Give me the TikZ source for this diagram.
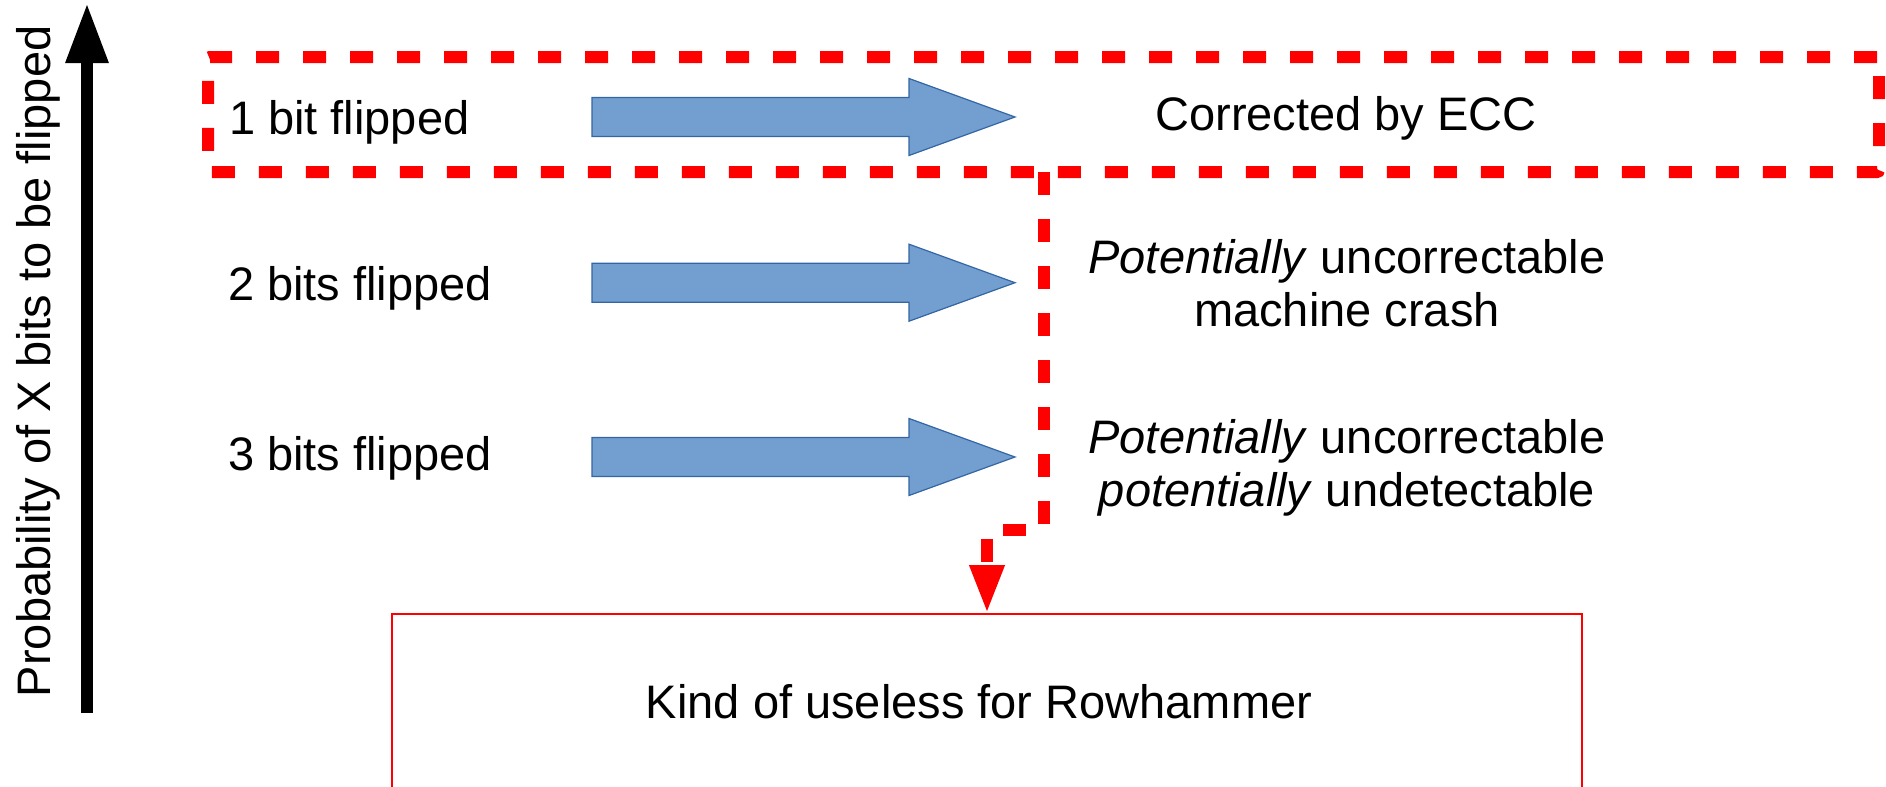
\documentclass[tikz,border=0pt]{standalone}
\usepackage{fontspec}
\setmainfont{Liberation Sans}
\usetikzlibrary{arrows.meta}
\definecolor{blockfill}{HTML}{729FCF}
\definecolor{blockline}{HTML}{3465A4}

\begin{document}
\begin{tikzpicture}[x=0.5pt,y=-0.5pt,
  every node/.style={inner sep=0pt, outer sep=0pt,
    font=\fontsize{23.5pt}{26.7pt}\selectfont},
  lbl/.style={anchor=base west},
  res/.style={align=center, anchor=base},
  eccbox/.style={draw=red, line width=6pt, dash pattern=on 11.5pt off 12pt,
    rounded corners=1pt, minimum width=835.5pt, minimum height=57.5pt},
  resultbox/.style={draw=red, line width=0.6pt, minimum width=595pt,
    minimum height=200pt, anchor=north},
  flowline/.style={draw=red, line width=6pt, dash pattern=on 11.5pt off 12pt,
    -{Triangle[length=24.5pt,width=16pt]}},
  axisline/.style={line width=6pt, -{Triangle[length=30pt,width=20pt]}},
  blockarrow/.style={fill=blockfill, draw=blockline, line width=0.6pt}
]
\useasboundingbox (0,0) rectangle (1886,787);
\clip (0,0) rectangle (1886,787);

% vertical axis
\coordinate (axbot) at (87,713);
\coordinate (axtop) at (87,3);
\draw[axisline] (axbot) -- (axtop);
\node[rotate=90, anchor=base west] (axlabel) at (50,697)
  {Probability of X bits to be flipped};

% region of errors that ECC corrects
\node[eccbox] (ecc) at (1043.5,114.5) {};

% number of flipped bits
\node[lbl] (one)   at (229,134)   {1 bit flipped};
\node[lbl] (two)   at (228,300.7) {2 bits flipped};
\node[lbl] (three) at (228,470)   {3 bits flipped};

% block arrows
\foreach \y in {117,282.7,457}
  \filldraw[blockarrow] (592,\y-19.5) -- (909,\y-19.5) -- (909,\y-38.5)
    -- (1015,\y) -- (909,\y+38.5) -- (909,\y+19.5) -- (592,\y+19.5) -- cycle;

% outcomes (a multi-line node sits on the baseline of its last line)
\node[res] (corr)  at (1346,130) {Corrected by ECC};
\node[res] (crash) at (1347,326.7) {\textit{Potentially} uncorrectable\\machine crash};
\node[res] (undet) at (1347,506.7) {\textit{Potentially} uncorrectable\\\textit{potentially} undetectable};

% conclusion
\node[resultbox] (useless) at (987,614) {};
\node[anchor=base] (uselesstext) at (979,718) {Kind of useless for Rowhammer};

\draw[flowline] (ecc.south) -- ++(0,358) -| (useless.north);
\end{tikzpicture}
\end{document}
